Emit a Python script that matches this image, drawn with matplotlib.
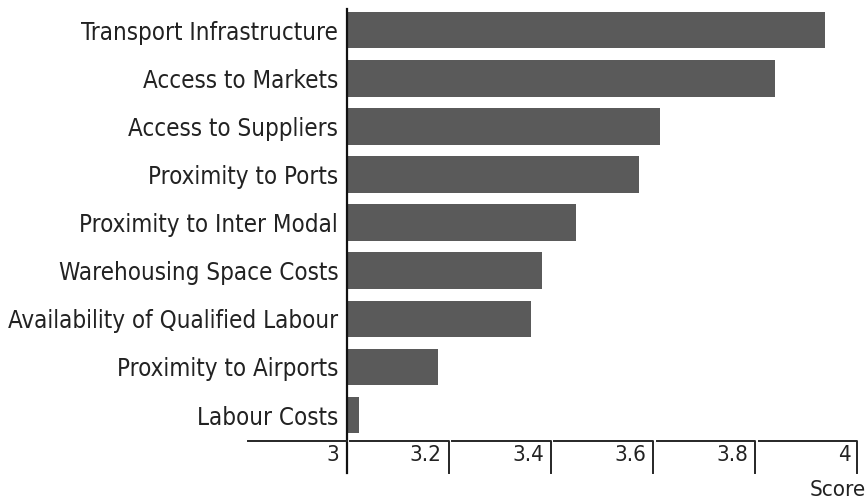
import matplotlib
matplotlib.use("Agg")
import matplotlib.pyplot as plt
from matplotlib.lines import Line2D

categories = [
    "Transport Infrastructure",
    "Access to Markets",
    "Access to Suppliers",
    "Proximity to Ports",
    "Proximity to Inter Modal",
    "Warehousing Space Costs",
    "Availability of Qualified Labour",
    "Proximity to Airports",
    "Labour Costs",
]
scores = [3.937, 3.839, 3.614, 3.573, 3.449, 3.383, 3.361, 3.179, 3.024]
x_ticks = [3, 3.2, 3.4, 3.6, 3.8, 4]
x_tick_labels = ["3", "3.2", "3.4", "3.6", "3.8", "4"]
axis_title = "Score"

FONT = ["DejaVu Sans Condensed", "Liberation Sans Narrow", "DejaVu Sans"]
plt.rcParams["font.family"] = FONT
plt.rcParams["font.stretch"] = "condensed"

W, H, DPI = 867, 499, 100
fig = plt.figure(figsize=(W / DPI, H / DPI), dpi=DPI)

# axes frame in pixels
left_px, right_px, top_px, bottom_px = 248, 857.3, 9, 441
ax = fig.add_axes([left_px / W, 1 - bottom_px / H,
                   (right_px - left_px) / W, (bottom_px - top_px) / H])

base = x_ticks[0]
xmin = 2.807
ax.set_xlim(xmin, x_ticks[-1])
ax.set_ylim(8.54, -0.44)

bar_color = "#5a5a5a"
text_color = "#222222"
ypos = list(range(len(categories)))
ax.barh(ypos, [s - base for s in scores], left=base, height=0.76,
        color=bar_color, edgecolor="none")

# category labels sit next to the vertical baseline at x = 3
for sp in ax.spines.values():
    sp.set_visible(False)
ax.spines["left"].set_position(("data", base))
ax.set_yticks(ypos)
ax.set_yticklabels(categories, fontsize=17.3, color=text_color)
ax.tick_params(axis="y", length=0, pad=6)
ax.set_xticks([])

line_color = "#262626"
axes_h_px = bottom_px - top_px
drop = 32 / axes_h_px  # tick drop below the axis line, in axes fraction

tr = ax.get_xaxis_transform()
# vertical baseline at 3, running from the top of the axes past the axis line
ax.add_line(Line2D([base, base], [1, -drop], transform=tr, color="#111111",
                   lw=1.6, clip_on=False))
# horizontal axis to the left of the baseline
ax.add_line(Line2D([xmin, base], [0, 0], transform=tr, color=line_color,
                   lw=1.4, clip_on=False))
# segmented axis: each segment ends in a downward tick
gap = 3.5 / ((right_px - left_px) / (x_ticks[-1] - xmin))
for prev, t in zip(x_ticks[:-1], x_ticks[1:]):
    ax.add_line(Line2D([prev + gap, t, t], [0, 0, -drop], transform=tr,
                       color=line_color, lw=1.4, clip_on=False))

for t, lab in zip(x_ticks, x_tick_labels):
    ax.annotate(lab, xy=(t, 0), xycoords=tr, xytext=(-5, -10),
                textcoords="offset points", ha="right", va="center",
                fontsize=16, color=text_color)

fig.text(866 / W, 1 - 490 / H, axis_title, ha="right", va="center",
         fontsize=16, color=text_color)

fig.savefig("out.png", dpi=DPI)
